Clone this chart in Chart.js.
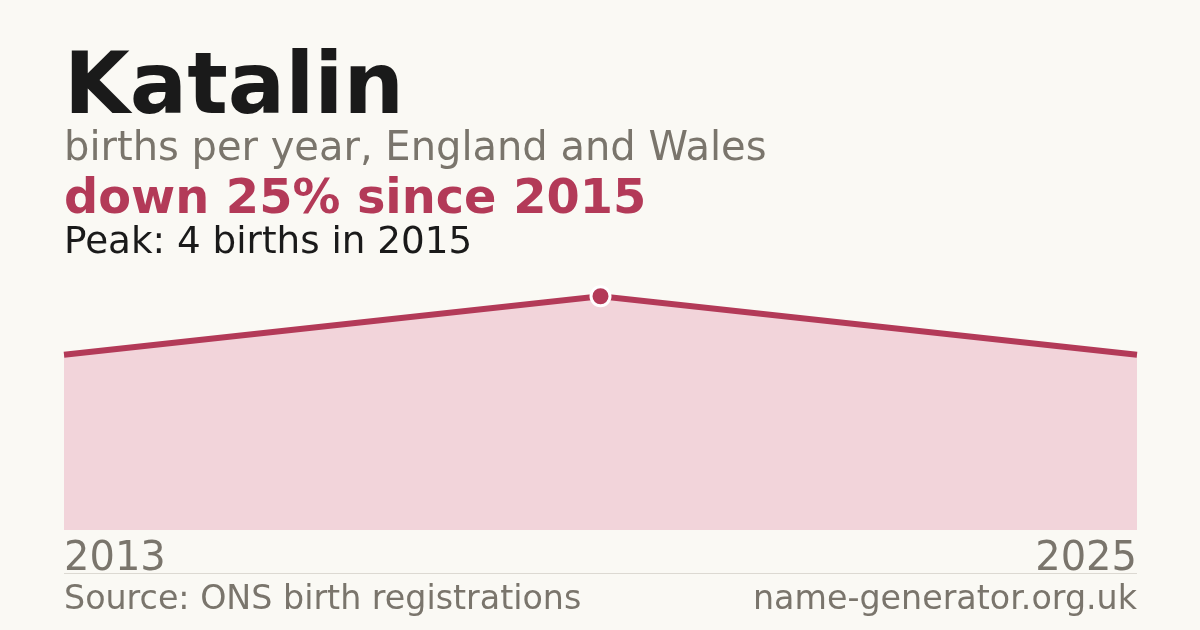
<!DOCTYPE html>
<html>
<head>
<meta charset="utf-8">
<script src="https://cdn.jsdelivr.net/npm/chart.js@4"></script>
<style>
  html, body { margin:0; padding:0; background:#faf9f4; }
  #wrap { position:relative; width:1200px; height:630px; overflow:hidden; background:#faf9f4; font-family:"DejaVu Sans", sans-serif; }
  #wrap canvas { position:absolute; left:0; top:0; }
  .t { position:absolute; left:64px; line-height:1; white-space:nowrap; }
  #title { top:41px; font-size:85px; font-weight:bold; color:#1a1a1a; }
  #sub { top:126px; font-size:40px; color:#7a756c; }
  #change { top:173px; font-size:47.8px; font-weight:bold; color:#b33a58; }
  #peak { top:222px; font-size:37.3px; color:#1a1a1a; }
  #rule { position:absolute; left:64px; width:1073px; top:573px; height:1px; background:#dcd9d2; }
  #src { top:581px; font-size:33.3px; color:#7a756c; }
  #site { top:581px; left:auto; right:63px; font-size:33.3px; color:#7a756c; }
</style>
</head>
<body>
<div id="wrap">
  <canvas id="c" width="1200" height="630"></canvas>
  <div class="t" id="title">Katalin</div>
  <div class="t" id="sub">births per year, England and Wales</div>
  <div class="t" id="change">down 25% since 2015</div>
  <div class="t" id="peak">Peak: 4 births in 2015</div>
  <div id="rule"></div>
  <div class="t" id="src">Source: ONS birth registrations</div>
  <div class="t" id="site">name-generator.org.uk</div>
</div>
<script>
const years = ['2013', '2015', '2025'];
const births = [3, 4, 3];
const tickLabels = ['2013', '2025'];

const peakValue = Math.max(...births);
const crimson = '#b33a58';

new Chart(document.getElementById('c'), {
  type: 'line',
  data: {
    labels: years,
    datasets: [{
      data: births,
      borderColor: crimson,
      borderWidth: 6,
      backgroundColor: '#f2d4da',
      fill: 'origin',
      tension: 0,
      clip: false,
      pointRadius: ctx => ctx.raw === peakValue ? 9.5 : 0,
      pointHoverRadius: 0,
      pointBackgroundColor: crimson,
      pointBorderColor: '#ffffff',
      pointBorderWidth: 3
    }]
  },
  options: {
    responsive: false,
    animation: false,
    events: [],
    layout: { padding: { left: 64, right: 63, top: 267, bottom: 50 } },
    plugins: { legend: { display: false }, tooltip: { enabled: false } },
    scales: {
      x: {
        type: 'category',
        offset: false,
        grid: { display: false, drawTicks: false },
        border: { display: false },
        afterFit: s => { s.height = 50; },
        ticks: {
          autoSkip: false,
          maxRotation: 0,
          align: 'inner',
          padding: 6,
          color: '#7a756c',
          font: { family: 'DejaVu Sans', size: 40 },
          callback: function(v, i) {
            const l = this.getLabelForValue(v);
            return tickLabels.includes(l) ? l : '';
          }
        }
      },
      y: {
        display: false,
        min: 0,
        max: 4.5
      }
    }
  }
});
</script>
</body>
</html>
